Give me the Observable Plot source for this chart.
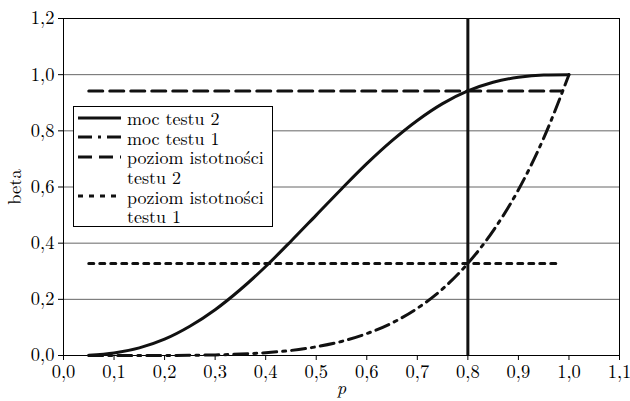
<!DOCTYPE html>
<html><head><meta charset="utf-8">
<script src="https://cdn.jsdelivr.net/npm/d3@7"></script>
<script src="https://cdn.jsdelivr.net/npm/@observablehq/plot@0.6"></script>
<style>
body{margin:0;background:#fff;}
#wrap{position:relative;width:630px;height:401px;}
#legend{position:absolute;left:73px;top:106px;width:200px;height:121px;border:1px solid #000;background:#fff;font-size:18px;line-height:19px;padding-top:1px;box-sizing:border-box;overflow:hidden;}
.row{display:flex;align-items:center;height:19.6px;}
.row svg{margin-left:4px;margin-right:6px;flex:none;}
.row.cont{padding-left:53px;}
</style>
</head><body>
<div id="wrap"></div>
<script>
const FONT = "'Latin Modern Roman', 'Liberation Serif', serif";
const p = [0.05,0.10,0.15,0.20,0.25,0.30,0.35,0.40,0.45,0.50,0.55,0.60,0.65,0.70,0.75,0.80,0.85,0.90,0.95,1.00];
const moc2 = [0.001,0.009,0.027,0.058,0.104,0.163,0.235,0.317,0.407,0.500,0.593,0.683,0.765,0.837,0.897,0.942,0.973,0.991,0.999,1.000];
const moc1 = [0.000,0.000,0.000,0.000,0.001,0.002,0.005,0.010,0.018,0.031,0.050,0.078,0.116,0.168,0.237,0.328,0.444,0.590,0.774,1.000];
const alphaP = [0.05, 0.985];
const alpha2 = 0.942;
const alpha1 = 0.328;
const pMark = 0.8;
const gridY = [0.2,0.4,0.6,0.8,1.0];
const xTicks = [0,0.1,0.2,0.3,0.4,0.5,0.6,0.7,0.8,0.9,1.0,1.1];
const yTicks = [0,0.2,0.4,0.6,0.8,1.0,1.2];
const fmt = d => d.toFixed(1).replace(".", ",");

const d2 = p.map((x,i)=>({p:x,v:moc2[i]}));
const d1 = p.map((x,i)=>({p:x,v:moc1[i]}));
const a2 = alphaP.map(x=>({p:x,v:alpha2}));
const a1 = alphaP.map(x=>({p:x,v:alpha1}));

const chart = Plot.plot({
  width:630, height:401,
  marginLeft:63, marginRight:11, marginTop:18, marginBottom:46,
  style:{fontFamily:FONT, fontSize:"18.5px", color:"#000", background:"#fff"},
  x:{domain:[0,1.1]},
  y:{domain:[0,1.2]},
  marks:[
    Plot.ruleY(gridY,{stroke:"#666",strokeWidth:1}),
    Plot.frame({stroke:"#000",strokeWidth:1}),
    Plot.axisX({ticks:xTicks,tickFormat:fmt,tickSize:5,tickPadding:4,label:"p",labelAnchor:"center",labelArrow:"none",labelOffset:38,fontSize:18.5}),
    Plot.axisY({ticks:yTicks,tickFormat:fmt,tickSize:5,tickPadding:4,label:"beta",labelAnchor:"center",labelArrow:"none",labelOffset:56,fontSize:18.5}),
    Plot.line(a1,{x:"p",y:"v",stroke:"#111",strokeWidth:3,strokeDasharray:"5,6"}),
    Plot.line(a2,{x:"p",y:"v",stroke:"#111",strokeWidth:3,strokeDasharray:"14,7"}),
    Plot.line(d1,{x:"p",y:"v",stroke:"#111",strokeWidth:3,strokeDasharray:"14,6,3,6",curve:"monotone-x"}),
    Plot.line(d2,{x:"p",y:"v",stroke:"#111",strokeWidth:3,curve:"monotone-x"}),
    Plot.ruleX([pMark],{stroke:"#111",strokeWidth:3})
  ]
});
const wrap = document.getElementById("wrap");
wrap.appendChild(chart);
chart.querySelectorAll("text").forEach(t=>{t.style.fontFamily = FONT;});
chart.querySelectorAll("g[aria-label='x-axis label'] text").forEach(t=>t.setAttribute("font-style","italic"));

const legendItems = [
  {label:"moc testu 2", dash:null},
  {label:"moc testu 1", dash:"14,6,3,6"},
  {label:"poziom istotności", dash:"14,7", cont:"testu 2"},
  {label:"poziom istotności", dash:"5,6", cont:"testu 1"}
];
const lg = document.createElement("div");
lg.id = "legend";
lg.style.fontFamily = FONT;
for (const it of legendItems) {
  const r = document.createElement("div");
  r.className = "row";
  r.innerHTML = `<svg width="43" height="10"><line x1="0" x2="43" y1="5" y2="5" stroke="#111" stroke-width="3" ${it.dash?`stroke-dasharray="${it.dash}"`:""}/></svg><span>${it.label}</span>`;
  lg.appendChild(r);
  if (it.cont) {
    const c = document.createElement("div");
    c.className = "row cont";
    c.textContent = it.cont;
    lg.appendChild(c);
  }
}
wrap.appendChild(lg);
</script>
</body></html>
